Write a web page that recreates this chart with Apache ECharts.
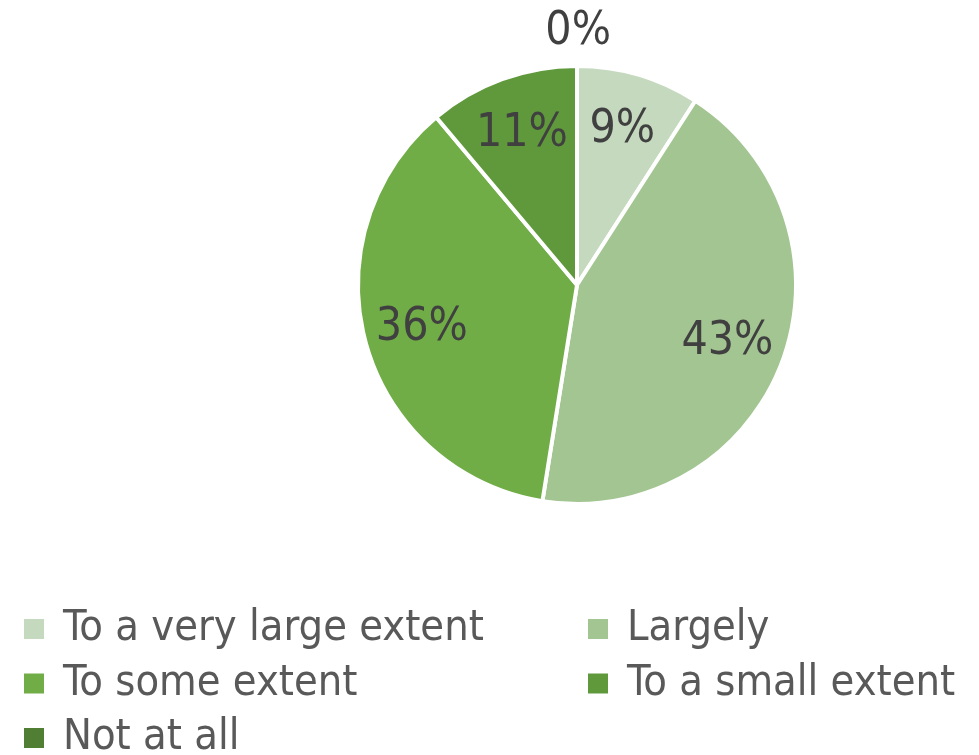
<!DOCTYPE html>
<html><head><meta charset="utf-8">
<script src="https://cdn.jsdelivr.net/npm/echarts@6/dist/echarts.min.js"></script>
<style>html,body{margin:0;padding:0;background:#fff}#c{width:979px;height:755px}</style>
</head><body><div id="c"></div>
<script>
const categories = ['To a very large extent','Largely','To some extent','To a small extent','Not at all'];
const values = [9, 43, 36, 11, 0];
const colors = ['#C5D9BE','#A3C592','#70AD47','#5F993C','#507E32'];
const FONT = '"Liberation Sans Narrow","Arial Narrow","DejaVu Sans Condensed",sans-serif';

const chart = echarts.init(document.getElementById('c'));
const mainData = categories.map((n,i)=>({
  name:n, value:values[i], itemStyle:{color:colors[i]},
  label: values[i]===0 ? {show:true, position:'outside', offset:[39,-12]} : {show:false},
  labelLine:{show:false, length:22, length2:0}
}));
const overlayData = categories.map((n,i)=>({
  name:n, value:values[i],
  label:{show: values[i]!==0}
}));
const legendText = {fontFamily:FONT, fontSize:43, color:'#595959', lineHeight:44, padding:[0,0,0,13]};
chart.setOption({
  animation:false,
  legend:[
    {data:[categories[0],categories[2],categories[4]], orient:'vertical', left:22, top:607, height:160,
     itemWidth:22, itemHeight:22, itemGap:10.5, icon:'rect', padding:0, textStyle:legendText},
    {data:[categories[1],categories[3]], orient:'vertical', left:586, top:607, height:160,
     itemWidth:22, itemHeight:22, itemGap:10.5, icon:'rect', padding:0, textStyle:legendText}
  ],
  series:[
    {type:'pie', center:[577,285], radius:219, startAngle:90, clockwise:true,
     itemStyle:{borderColor:'#fff', borderWidth:4},
     label:{fontFamily:FONT, fontSize:46, color:'#404040', formatter:'{c}%'},
     data: mainData},
    {type:'pie', center:[577,285], radius:[98,218], startAngle:90, clockwise:true, silent:true,
     itemStyle:{color:'rgba(0,0,0,0)'},
     label:{position:'inside', fontFamily:FONT, fontSize:46, color:'#404040', formatter:'{c}%'},
     labelLine:{show:false},
     data: overlayData}
  ]
});
</script></body></html>
